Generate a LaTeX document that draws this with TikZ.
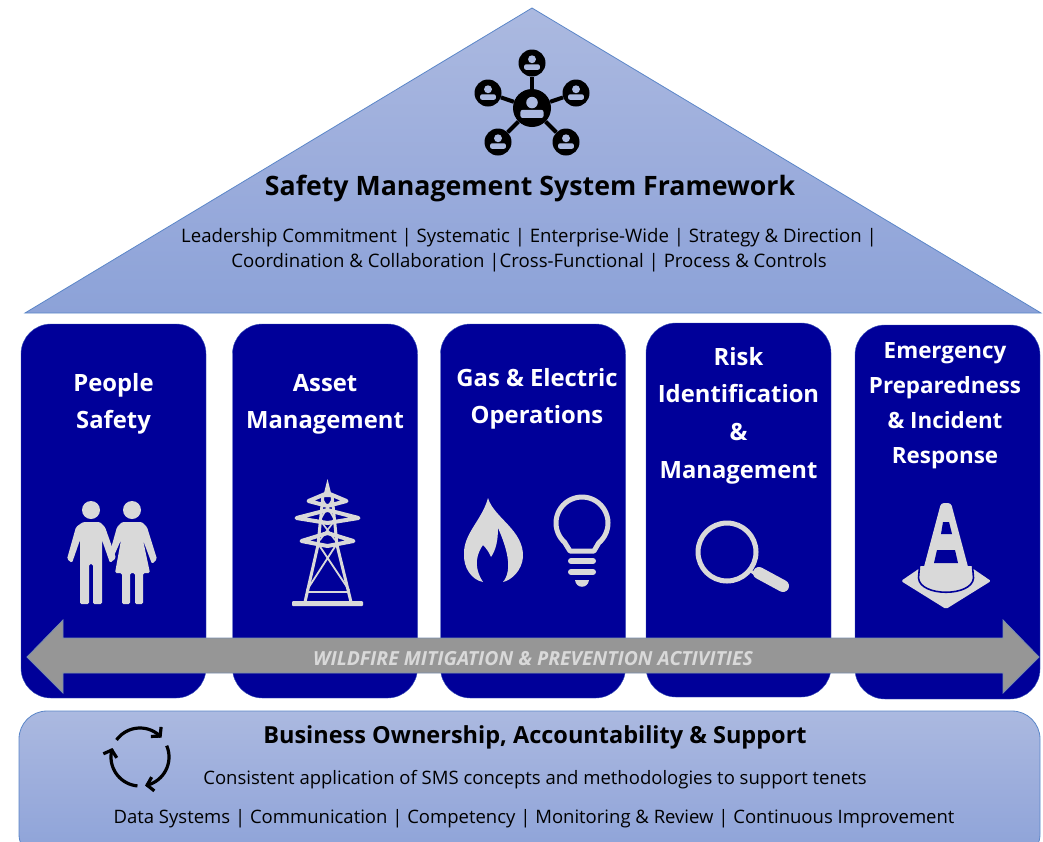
\documentclass[tikz,border=0pt]{standalone}
\usepackage{fontspec}
\setmainfont{Open Sans}
\usepackage[HTML]{xcolor}
\usetikzlibrary{positioning, arrows, arrows.meta}

\definecolor{roofTop}{HTML}{ABB9E0}
\definecolor{roofBottom}{HTML}{8CA2D8}
\definecolor{roofEdge}{HTML}{5B86C8}
\definecolor{pillarBlue}{HTML}{000099}
\definecolor{iconGray}{HTML}{D9D9D9}
\definecolor{bandGray}{HTML}{969696}

\newcommand{\netface}[3]{
  \fill[roofTop] (#1,#2-#3*0.34) circle ({#3*0.36});
  \fill[roofTop, rounded corners=2pt] (#1-#3*0.72,#2+#3*0.62) rectangle (#1+#3*0.72,#2+#3*0.12);
}

\begin{document}
\begin{tikzpicture}[x=1pt, y=-1pt,
  pillar/.style={draw=roofEdge!60!pillarBlue, fill=pillarBlue, rounded corners=30pt, minimum width=185pt, minimum height=374pt, inner sep=0pt},
  pillartext/.style={white, align=center, font=\fontsize{23.8}{37}\selectfont\bfseries},
  bodytext/.style={black, align=center, font=\fontsize{18.6}{25}\selectfont, inner sep=0pt},
  headtext/.style={black, align=center, font=\fontsize{26.7}{30}\selectfont\bfseries, inner sep=0pt},
  hub/.style={circle, fill=black, inner sep=0pt, minimum size=#1},
  icon/.style={fill=iconGray, draw=none},
  iconline/.style={draw=iconGray, line cap=round, line join=round}]

\useasboundingbox (0,0) rectangle (1043,841);

% roof
\path[draw=roofEdge, top color=roofTop, bottom color=roofBottom, line width=0.8pt] (532,8) -- (1041,313) -- (25,313) -- cycle;

\node[hub=38pt] (netHub) at (532,108) {};
\foreach \sat/\px/\py in {netA/532/63, netB/488/93, netC/576/93, netD/498/142, netE/566/142} {
  \node[hub=27pt] (\sat) at (\px,\py) {};
  \draw[black, line width=4pt] (netHub) -- (\sat);
  \netface{\px}{\py}{11}
}
\netface{532}{108}{16}

\node[headtext] (roofTitle) at (530,188) {Safety Management System Framework};
\node[bodytext] (roofText) at (529,250) {Leadership Commitment | Systematic | Enterprise-Wide | Strategy \& Direction |\\Coordination \& Collaboration |Cross-Functional | Process \& Controls};

% pillars
\node[pillar] (pillarA) at (113.5,511) {};
\node[pillar] (pillarB) at (325,511) {};
\node[pillar] (pillarC) at (533,511) {};
\node[pillar] (pillarD) at (738.5,510) {};
\node[pillar] (pillarE) at (947.5,512) {};

\node[pillartext] (labelA) at (113.5,404) {People\\Safety};
\node[pillartext] (labelB) at (325,404) {Asset\\Management};
\node[pillartext] (labelC) at (537,399) {Gas \& Electric\\Operations};
\node[pillartext, font=\fontsize{23.8}{37.6}\selectfont\bfseries] (labelD) at (738.5,415.5) {Risk\\Identification\\\&\\Management};
\node[pillartext, font=\fontsize{22.4}{35}\selectfont\bfseries] (labelE) at (945,405.5) {Emergency\\Preparedness\\\& Incident\\Response};

% people
\fill[iconGray] (91,510) circle (9);
\fill[iconGray] (132,510) circle (9);
\fill[icon, rounded corners=1.5pt] (83,522) -- (100,522) -- (105,527) -- (116,558) -- (110,563) -- (102,540) -- (102,604) -- (93,604) -- (93,564) -- (89,564) -- (89,604) -- (80,604) -- (80,540) -- (72,563) -- (67,559) -- (76,527) -- cycle;
\fill[icon, rounded corners=1.5pt] (122,522) -- (142,522) -- (147,527) -- (157,559) -- (152,564) -- (143,540) -- (150,573) -- (143,573) -- (143,604) -- (135,604) -- (135,573) -- (130,573) -- (130,604) -- (122,604) -- (122,573) -- (115,573) -- (121,540) -- (113,558) -- (110,552) -- (117,527) -- cycle;

% tower
\fill[icon] (327.5,479) -- (332,497) -- (323,497) -- cycle;
\fill[icon, rounded corners=1pt] (292,606) -- (363,606) -- (363,601) -- (292,601) -- cycle;
\foreach \armx/\army/\armw in {19/501/4, 31/518/4, 26/541/4} {
  \draw[iconline, line width=\armw pt] (327.5-\armx,\army) -- (327.5,\army-8) -- (327.5+\armx,\army) -- (327.5,\army+5) -- cycle;
}
\draw[iconline, line width=3pt] (323,495) -- (318,545) -- (305,602);
\draw[iconline, line width=3pt] (332,495) -- (337,545) -- (351,602);
\draw[iconline, line width=1.8pt] (319,545) -- (349,590) (336,545) -- (307,590) (308,592) -- (348,592);
\draw[iconline, line width=1.6pt] (323,500) -- (335,520) -- (320,540) (332,500) -- (320,520) -- (335,540);

% flame
\fill[icon] (488,498) .. controls (494,518) and (524,530) .. (523,557) .. controls (522,570) and (512,580) .. (503,582) .. controls (513,570) and (507,548) .. (498,528) .. controls (498,540) and (496,550) .. (491,557) .. controls (489,552) and (486,548) .. (483,545) .. controls (478,552) and (472,565) .. (483,582) .. controls (472,580) and (463,568) .. (464,553) .. controls (464,533) and (482,520) .. (488,498) -- cycle;

% bulb
\draw[iconline, line width=5pt] (570,551) -- (565,543) -- plot[domain=130:410, samples=40, smooth] ({582+26*cos(\x)},{523+26*sin(\x)}) -- (594,551) -- cycle;
\draw[iconline, line width=6pt] (571,561) -- (593,561) (571,572) -- (593,572);
\fill[icon] (575,580) -- (589,580) .. controls (588,589) and (576,589) .. (575,580) -- cycle;

% magnifier
\draw[iconline, line width=5pt] (727,552) circle (29);
\draw[iconline, line width=3pt] (749,570) -- (757,575);
\draw[iconline, line width=12pt] (759,573) -- (783,586);

% cone
\fill[icon, rounded corners=1.5pt] (920,568) -- (901,581) -- (946,609) -- (991,581) -- (972,568) -- cycle;
\draw[pillarBlue, line width=1.6pt, fill=iconGray] (919.5,566) -- (918.5,578) .. controls (920,597) and (972,597) .. (973.5,578) -- (972.5,566);
\fill[icon, rounded corners=3pt] (941,503) -- (951,503) -- (971,578) .. controls (965,591) and (927,591) .. (921,578) -- cycle;
\fill[pillarBlue] (943,522) -- (949,522) -- (952,534) -- (941,534) -- cycle;
\fill[pillarBlue] (937,550) -- (955,550) -- (958,563) -- (934,563) -- cycle;

% band
\draw[roofEdge!50!bandGray, fill=bandGray, line width=0.8pt] (27,657) -- (63,620) -- (63,638) -- (1003,638) -- (1003,620) -- (1039,657) -- (1003,693) -- (1003,673) -- (63,673) -- (63,693) -- cycle;
\node[iconGray, font=\fontsize{19.4}{22}\selectfont\bfseries\itshape, inner sep=0pt] (bandText) at (533,659) {WILDFIRE MITIGATION \& PREVENTION ACTIVITIES};

% base
\begin{scope}
\clip (0,700) rectangle (1043,841);
\path[draw=roofEdge, top color=roofTop, bottom color=roofBottom, line width=0.8pt, rounded corners=28pt] (19,711) rectangle (1040,862);
\end{scope}

\foreach \cstart/\cend in {216/318, 337/440, 95/198} {
  \draw[black, line width=3.2pt, -{Straight Barb[length=6pt, width=14pt]}, domain=\cstart:\cend, samples=30, smooth] plot ({140+29*cos(\x)},{757+29*sin(\x)});
}

\node[headtext, font=\fontsize{23.5}{28}\selectfont\bfseries] (baseTitle) at (535,737) {Business Ownership, Accountability \& Support};
\node[bodytext, font=\fontsize{18.5}{22}\selectfont] (baseText) at (535,780) {Consistent application of SMS concepts and methodologies to support tenets};
\node[bodytext, font=\fontsize{18.5}{22}\selectfont] (baseList) at (534,819) {Data Systems | Communication | Competency | Monitoring \& Review | Continuous Improvement};

\end{tikzpicture}
\end{document}
